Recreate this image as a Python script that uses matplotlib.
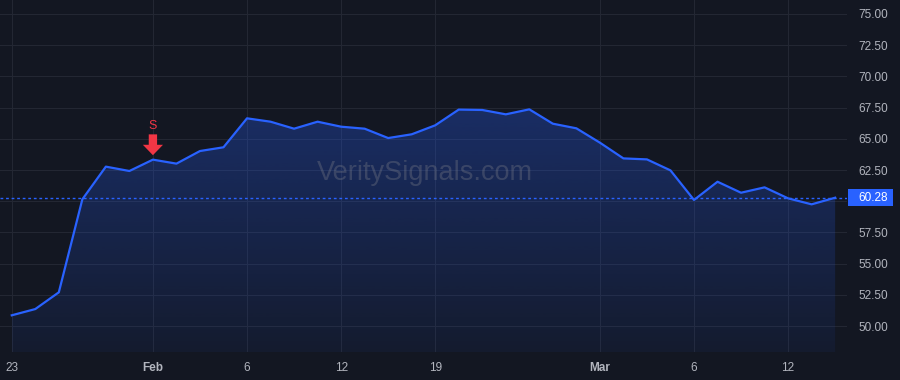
import numpy as np
import matplotlib.pyplot as plt
from matplotlib.patches import Rectangle
from matplotlib.transforms import ScaledTranslation, offset_copy

OUTPUT_FILE = "out.png"

# daily closes
closes = [50.86, 51.36, 52.70, 60.15, 62.77, 62.42, 63.33, 63.01, 64.02, 64.32,
          66.64, 66.37, 65.81, 66.37, 65.97, 65.81, 65.06, 65.36, 66.08, 67.34,
          67.31, 66.96, 67.36, 66.21, 65.84, 64.69, 63.43, 63.35, 62.47, 60.10,
          61.56, 60.68, 61.11, 60.23, 59.75, 60.28]

# x tick labels and the bar index where each sits
tick_idx = [0, 6, 10, 14, 18, 25, 29, 33]
tick_labels = ["23", "Feb", "6", "12", "19", "Mar", "6", "12"]
month_labels = ["Feb", "Mar"]

# sell signal bar
signal_idx = 6
signal_text = "S"

yticks = [50.0, 52.5, 55.0, 57.5, 60.0, 62.5, 65.0, 67.5, 70.0, 72.5, 75.0]

BG = "#131722"
GRID = "#232733"
LINE = "#2962ff"
TEXT = "#b2b5be"
RED = "#f23645"


def draw():
    plt.rcParams['font.family'] = ['Liberation Sans', 'DejaVu Sans']
    x = np.arange(len(closes))
    last = closes[-1]

    fig = plt.figure(figsize=(9, 3.8), dpi=100, facecolor=BG)
    ax = fig.add_axes([0.0, 0.0737, 0.941, 0.9263], facecolor=BG)
    ax.set_xlim(-0.5, len(closes) - 0.5)
    ax.set_ylim(47.92, 76.12)

    # gradient fill under the line
    poly = ax.fill_between(x, closes, 47.92, color="none")
    grad = np.linspace(0.06, 0.30, 256).reshape(-1, 1)
    rgba = np.zeros((256, 1, 4))
    rgba[..., 0] = 0x29 / 255
    rgba[..., 1] = 0x62 / 255
    rgba[..., 2] = 0xff / 255
    rgba[..., 3] = grad
    img = ax.imshow(rgba, extent=[x[0], x[-1], 47.92, max(closes)],
                    origin="lower", aspect="auto", zorder=1)
    img.set_clip_path(poly.get_paths()[0], transform=ax.transData)

    ax.plot(x, closes, color=LINE, lw=1.6, zorder=3)
    ax.axhline(last, color=LINE, lw=1, ls=(0, (2, 2)), zorder=2)

    # sell marker: arrow tip a few points above the close
    tip = offset_copy(ax.transData, fig=fig, x=0, y=3.2, units="points")
    ax.annotate("", xy=(signal_idx, closes[signal_idx]), xycoords=tip,
                xytext=(0, 15), textcoords="offset points",
                arrowprops=dict(width=6, headwidth=14.5, headlength=7.5,
                                shrink=0, color=RED, lw=0),
                zorder=4)
    ax.annotate(signal_text, xy=(signal_idx, closes[signal_idx]), xytext=(0, 24.5),
                textcoords="offset points", ha="center", va="center",
                color=RED, fontsize=9, zorder=4)

    # watermark
    ax.text(0.502, 0.508, "VeritySignals.com", transform=ax.transAxes,
            ha="center", va="center", fontsize=19.5, color="#787b86", alpha=0.36, zorder=2)

    # grid and ticks
    ax.set_xticks(tick_idx)
    ax.set_xticklabels(tick_labels)
    ax.set_yticks(yticks)
    # the last-price tag covers the 60.00 label
    ax.set_yticklabels(["" if abs(v - last) < 1 else f"{v:.2f}" for v in yticks])
    ax.yaxis.tick_right()
    ax.grid(True, color=GRID, lw=0.8)
    ax.set_axisbelow(True)
    ax.tick_params(axis="y", length=0, pad=8, labelcolor=TEXT, labelsize=8.5)
    ax.tick_params(axis="x", length=0, pad=7, labelcolor=TEXT, labelsize=8.5)
    for lab in ax.get_xticklabels():
        if lab.get_text() in month_labels:
            lab.set_fontweight("bold")
    for s in ax.spines.values():
        s.set_visible(False)

    # last price label
    anchor = fig.dpi_scale_trans + ScaledTranslation(1.0, last, ax.get_yaxis_transform())
    ax.add_patch(Rectangle((0.01, -0.085), 0.45, 0.17, transform=anchor,
                           facecolor=LINE, edgecolor="none", clip_on=False, zorder=5))
    ax.annotate(f"{last:.2f}", xy=(1.0, last), xycoords=("axes fraction", "data"),
                xytext=(8, 0), textcoords="offset points", ha="left", va="center",
                color="white", fontsize=8.5, zorder=6, annotation_clip=False)

    fig.savefig(OUTPUT_FILE, dpi=100, facecolor=BG)
    plt.close(fig)


if __name__ == "__main__":
    draw()
